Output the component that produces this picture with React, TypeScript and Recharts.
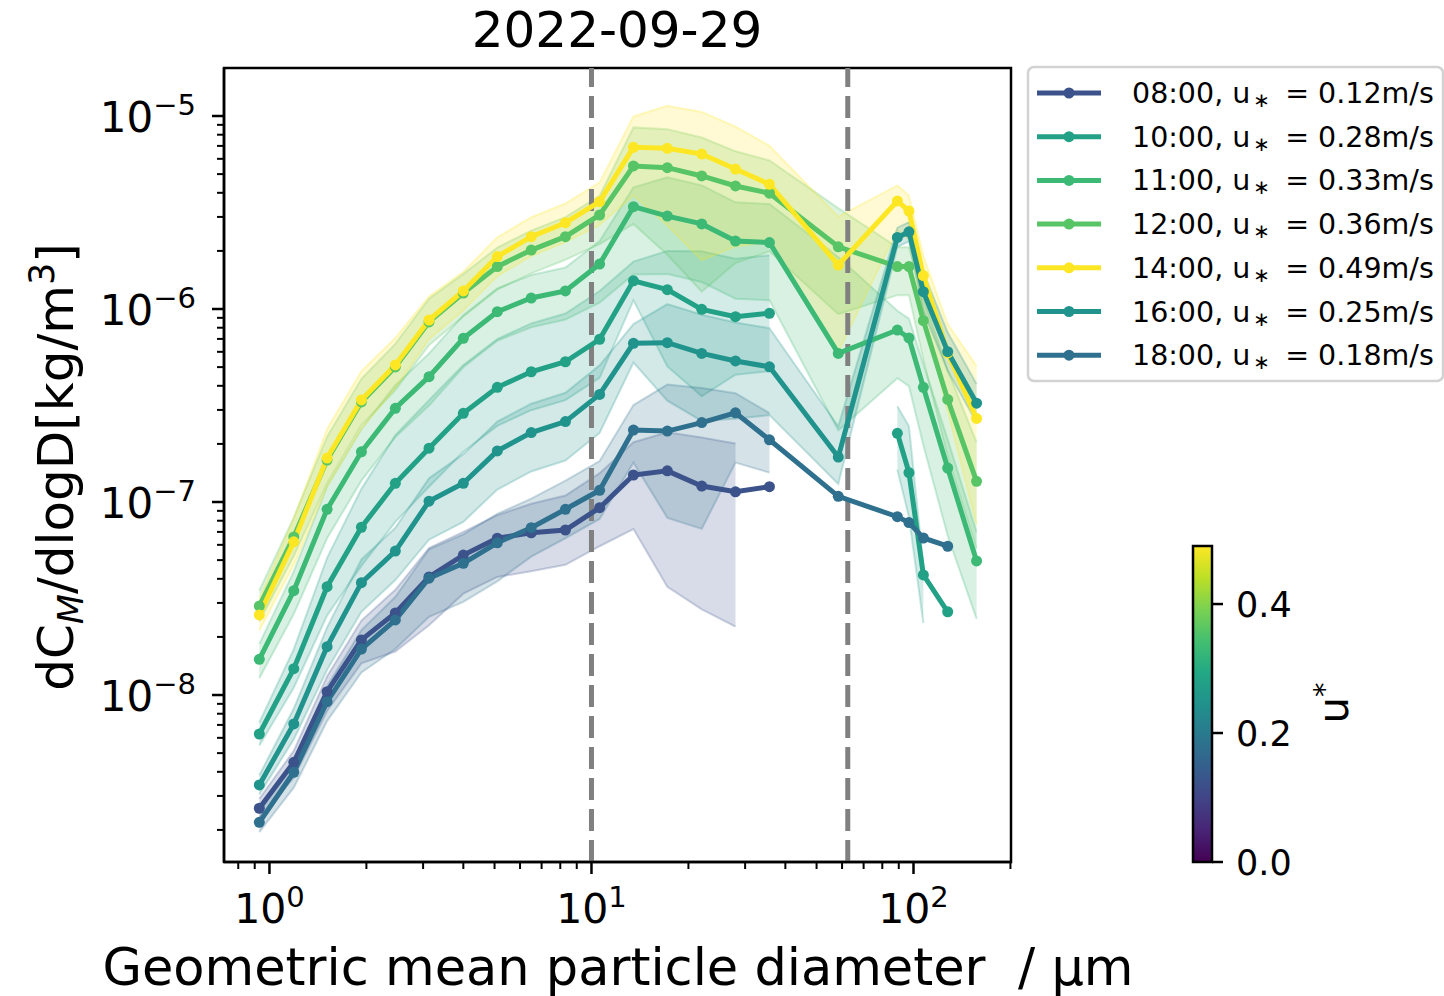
import React from "react";
import { Area, ComposedChart, Line, ReferenceArea, ReferenceLine, XAxis, YAxis } from "recharts";

const FONT = "DejaVu Sans, sans-serif";

// geometric mean diameters (um)
const DIAMETERS = [0.93, 1.19, 1.51, 1.93, 2.46, 3.13, 4.0, 5.1, 6.5, 8.3, 10.6, 13.5, 17.2, 22.0, 28.0, 35.7, 58.4, 89.1, 96.8, 107.3, 127.7, 157.0];

const TIMES = ["08:00", "10:00", "11:00", "12:00", "14:00", "16:00", "18:00"];
const USTAR = ["0.12", "0.28", "0.33", "0.36", "0.49", "0.25", "0.18"];
const COLORS = ["#3b528b", "#22a186", "#3bb975", "#57c565", "#fde725", "#20938c", "#2e708e"];

const N = null;

const S08 = [2.59e-9, 4.48e-9, 1.04e-8, 1.93e-8, 2.66e-8, 4.09e-8, 5.31e-8, 6.49e-8, 6.93e-8, 7.16e-8, 9.34e-8, 1.38e-7, 1.45e-7, 1.21e-7, 1.13e-7, 1.2e-7, N, N, N, N, N, N];
const S10 = [6.28e-9, 1.37e-8, 3.64e-8, 7.4e-8, 1.25e-7, 1.9e-7, 2.88e-7, 3.93e-7, 4.73e-7, 5.33e-7, 6.97e-7, 1.4e-6, 1.26e-6, 9.96e-7, 9.12e-7, 9.5e-7, N, 2.27e-7, 1.42e-7, 4.19e-8, 2.7e-8, N];
const S11 = [1.53e-8, 3.47e-8, 9.17e-8, 1.82e-7, 3.06e-7, 4.46e-7, 7.05e-7, 9.68e-7, 1.14e-6, 1.24e-6, 1.71e-6, 3.39e-6, 3.03e-6, 2.76e-6, 2.25e-6, 2.21e-6, 5.89e-7, 7.78e-7, 7.08e-7, 3.93e-7, 1.5e-7, 4.95e-8];
const S12 = [2.89e-8, 6.59e-8, 1.65e-7, 3.3e-7, 5.01e-7, 8.57e-7, 1.21e-6, 1.66e-6, 2.02e-6, 2.37e-6, 3.07e-6, 5.51e-6, 5.4e-6, 4.89e-6, 4.34e-6, 3.98e-6, 2.1e-6, 1.66e-6, 1.66e-6, 8.7e-7, 3.4e-7, 1.28e-7];
const S14 = [2.6e-8, 6.22e-8, 1.69e-7, 3.38e-7, 5.13e-7, 8.77e-7, 1.24e-6, 1.87e-6, 2.37e-6, 2.8e-6, 3.6e-6, 6.88e-6, 6.8e-6, 6.35e-6, 5.31e-6, 4.43e-6, 1.69e-6, 3.63e-6, 3.22e-6, 1.49e-6, 5.92e-7, 2.71e-7];
const S16 = [3.42e-9, 7.08e-9, 1.78e-8, 3.82e-8, 5.57e-8, 1.01e-7, 1.25e-7, 1.84e-7, 2.29e-7, 2.61e-7, 3.61e-7, 6.64e-7, 6.69e-7, 5.89e-7, 5.38e-7, 5.02e-7, 1.71e-7, 2.35e-6, 2.51e-6, 1.23e-6, 6.01e-7, 3.25e-7];
const S18 = [2.19e-9, 3.98e-9, 9.23e-9, 1.73e-8, 2.45e-8, 4.03e-8, 4.81e-8, 6.15e-8, 7.36e-8, 9.17e-8, 1.15e-7, 2.36e-7, 2.33e-7, 2.58e-7, 2.9e-7, 2.1e-7, 1.07e-7, 8.39e-8, 7.83e-8, 6.51e-8, 5.9e-8, N];

// spread bands (low / high)
const L08 = [2.31e-9, 3.73e-9, 8.26e-9, 1.46e-8, 1.68e-8, 2.3e-8, 3.35e-8, 4.09e-8, 4.38e-8, 4.73e-8, 5.9e-8, 7.24e-8, 3.64e-8, 2.78e-8, 2.26e-8, N, N, N, N, N, N, N];
const H08 = [2.9e-9, 5.14e-9, 1.25e-8, 2.43e-8, 3.51e-8, 5.77e-8, 7.0e-8, 8.55e-8, 9.79e-8, 1.08e-7, 1.41e-7, 2.04e-7, 2.3e-7, 2.16e-7, 2.01e-7, N, N, N, N, N, N, N];
const L10 = [5.47e-9, 1.09e-8, 2.58e-8, 4.67e-8, 7.89e-8, 1.2e-7, 1.82e-7, 2.48e-7, 2.99e-7, 3.37e-7, 4.4e-7, 1.11e-6, 5.04e-7, 3.53e-7, 4.57e-7, 4.76e-7, N, 1.47e-7, 8.36e-8, 2.36e-8, N, N];
const H10 = [7.21e-9, 1.73e-8, 5.14e-8, 1.17e-7, 2.22e-7, 3.37e-7, 5.12e-7, 6.99e-7, 8.42e-7, 9.48e-7, 1.24e-6, 1.76e-6, 2.0e-6, 1.99e-6, 1.82e-6, 1.9e-6, N, 3.13e-7, 2.47e-7, 4.7e-8, N, N];
const L11 = [1.22e-8, 2.63e-8, 6.49e-8, 1.29e-7, 2.17e-7, 3.16e-7, 4.99e-7, 6.85e-7, 8.04e-7, 8.81e-7, 1.08e-6, 1.51e-6, 1.52e-6, 1.38e-6, 1.13e-6, 1.11e-6, 2.35e-7, 4.38e-7, 3.98e-7, 1.97e-7, 6.68e-8, 2.48e-8];
const H11 = [1.84e-8, 4.37e-8, 1.21e-7, 2.4e-7, 4.03e-7, 5.88e-7, 9.29e-7, 1.28e-6, 1.5e-6, 1.64e-6, 2.25e-6, 4.27e-6, 4.81e-6, 4.37e-6, 3.57e-6, 3.5e-6, 1.86e-6, 9.8e-7, 8.91e-7, 5.18e-7, 2.11e-7, 6.99e-8];
const L12 = [2.4e-8, 5.24e-8, 1.25e-7, 2.5e-7, 3.8e-7, 6.5e-7, 9.14e-7, 1.26e-6, 1.53e-6, 1.8e-6, 2.17e-6, 2.76e-6, 1.91e-6, 1.23e-6, 1.73e-6, 1.99e-6, 9.4e-7, 1.18e-6, 1.18e-6, 5.48e-7, 1.71e-7, 5.74e-8];
const H12 = [3.48e-8, 8.3e-8, 2.18e-7, 4.35e-7, 6.6e-7, 1.13e-6, 1.52e-6, 2.08e-6, 2.55e-6, 2.99e-6, 3.86e-6, 8.73e-6, 8.55e-6, 7.74e-6, 6.56e-6, 5.88e-6, 3.33e-6, 2.09e-6, 2.09e-6, 1.15e-6, 4.81e-7, 2.04e-7];
const L14 = [2.16e-8, 4.72e-8, 1.2e-7, 2.39e-7, 3.89e-7, 6.97e-7, 9.84e-7, 1.48e-6, 1.88e-6, 2.22e-6, 2.73e-6, 3.87e-6, 2.71e-6, 1.79e-6, 2.11e-6, 2.22e-6, 6.0e-7, 2.57e-6, 2.28e-6, 9.42e-7, 2.96e-7, 7.66e-8];
const H14 = [3.13e-8, 8.2e-8, 2.39e-7, 4.77e-7, 7.08e-7, 1.16e-6, 1.56e-6, 2.35e-6, 2.99e-6, 3.52e-6, 4.53e-6, 9.95e-6, 1.13e-5, 1.05e-5, 8.81e-6, 7.01e-6, 3.01e-6, 4.37e-6, 3.87e-6, 1.88e-6, 8.36e-7, 5.06e-7];
const L16 = [3.05e-9, 5.89e-9, 1.35e-8, 2.7e-8, 3.94e-8, 6.38e-8, 7.89e-8, 1.16e-7, 1.44e-7, 1.64e-7, 2.28e-7, 5.28e-7, 3.35e-7, 2.63e-7, 2.7e-7, 2.82e-7, 1.24e-7, 2.1e-6, 2.24e-6, 9.77e-7, 4.78e-7, 2.58e-7];
const H16 = [3.84e-9, 8.51e-9, 2.24e-8, 5.04e-8, 7.35e-8, 1.33e-7, 1.77e-7, 2.61e-7, 3.23e-7, 3.68e-7, 5.11e-7, 8.36e-7, 1.06e-6, 9.34e-7, 8.52e-7, 7.96e-7, 2.47e-7, 2.64e-6, 2.82e-6, 1.55e-6, 7.57e-7, 4.09e-7];
const L18 = [1.95e-9, 3.31e-9, 7.33e-9, 1.31e-8, 1.73e-8, 2.54e-8, 3.04e-8, 3.88e-8, 5.21e-8, 6.49e-8, 8.17e-8, 1.6e-7, 8.28e-8, 7.26e-8, 1.6e-7, 1.42e-7, N, N, N, N, N, N];
const H18 = [2.46e-9, 4.57e-9, 1.11e-8, 2.17e-8, 3.23e-8, 5.69e-8, 6.8e-8, 8.69e-8, 1.04e-7, 1.29e-7, 1.63e-7, 3.18e-7, 4.06e-7, 3.9e-7, 3.66e-7, 2.89e-7, N, N, N, N, N, N];

const MEANS = [S08, S10, S11, S12, S14, S16, S18];
const LOWS = [L08, L10, L11, L12, L14, L16, L18];
const HIGHS = [H08, H10, H11, H12, H14, H16, H18];

const X_TICKS = [0.8, 0.9, 1, 2, 3, 4, 5, 6, 7, 8, 9, 10, 20, 30, 40, 50, 60, 70, 80, 90, 100, 200];
const Y_TICKS = [
  2e-9, 3e-9, 4e-9, 5e-9, 6e-9, 7e-9, 8e-9, 9e-9, 1e-8,
  2e-8, 3e-8, 4e-8, 5e-8, 6e-8, 7e-8, 8e-8, 9e-8, 1e-7,
  2e-7, 3e-7, 4e-7, 5e-7, 6e-7, 7e-7, 8e-7, 9e-7, 1e-6,
  2e-6, 3e-6, 4e-6, 5e-6, 6e-6, 7e-6, 8e-6, 9e-6, 1e-5,
];
const X_DOMAIN: [number, number] = [0.7225, 200.8];
const Y_DOMAIN: [number, number] = [1.364e-9, 1.773e-5];
const CUTOFFS = [10, 62.5];

const CBAR_TICKS = ["0.0", "0.2", "0.4"];
const CBAR_MAX = 0.49;
const VIRIDIS = ["#440154", "#482475", "#414487", "#355f8d", "#2a788e", "#21918c", "#22a884", "#44bf70", "#7ad151", "#bddf26", "#fde725"];

const rows = DIAMETERS.map((d, i) => {
  const row: Record<string, unknown> = { d };
  MEANS.forEach((m, k) => {
    row[`m${k}`] = m[i];
    const lo = LOWS[k][i];
    const hi = HIGHS[k][i];
    row[`b${k}`] = lo == null || hi == null ? null : [lo, hi];
  });
  return row;
});

const exponentOf = (v: number) => Math.round(Math.log10(v));
const isDecade = (v: number) => Math.abs(Math.log10(v) - exponentOf(v)) < 1e-6;
const fmtExp = (e: number) => (e < 0 ? `\u2212${-e}` : `${e}`);

function XTick(props: any) {
  const { x, y, payload } = props;
  const major = isDecade(payload.value);
  return (
    <g>
      <line x1={x} x2={x} y1={y} y2={y + (major ? 12 : 7)} stroke="#000" strokeWidth={major ? 2.5 : 2} />
      {major && (
        <text x={x} y={y + 61} textAnchor="middle" fontFamily={FONT} fontSize={41} fill="#000">
          10
          <tspan dy={-16} fontSize={29}>
            {fmtExp(exponentOf(payload.value))}
          </tspan>
        </text>
      )}
    </g>
  );
}

function YTick(props: any) {
  const { x, y, payload } = props;
  const major = isDecade(payload.value);
  return (
    <g>
      <line x1={x} x2={x - (major ? 12 : 7)} y1={y} y2={y} stroke="#000" strokeWidth={major ? 2.5 : 2} />
      {major && (
        <text x={x - 28} y={y + 16} textAnchor="end" fontFamily={FONT} fontSize={42} fill="#000">
          10
          <tspan dy={-17} fontSize={29}>
            {fmtExp(exponentOf(payload.value))}
          </tspan>
        </text>
      )}
    </g>
  );
}

function Legend() {
  return (
    <svg width={420} height={320} style={{ position: "absolute", left: 1026, top: 65 }}>
      <rect x={2} y={2} width={415} height={314} rx={6} fill="#fff" stroke="#d2d2d2" strokeWidth={2.5} />
      {TIMES.map((t, k) => {
        const cy = 28 + k * 43.7;
        return (
          <g key={t}>
            <line x1={11} x2={75} y1={cy} y2={cy} stroke={COLORS[k]} strokeWidth={5} />
            <circle cx={43} cy={cy} r={5.5} fill={COLORS[k]} />
            <text x={106} y={cy + 10} fontFamily={FONT} fontSize={28.5} fill="#000" style={{ whiteSpace: "pre" }}>
              {`${t}, u`}
              <tspan fontSize={20} dx={3} dy={4}>{"\u2217"}</tspan>
              <tspan dx={6} dy={-4}>{` = ${USTAR[k]}m/s`}</tspan>
            </text>
          </g>
        );
      })}
    </svg>
  );
}

function Colorbar() {
  const top = 546;
  const bottom = 862;
  const h = bottom - top;
  return (
    <svg width={300} height={400} style={{ position: "absolute", left: 1150, top: 500 }}>
      <defs>
        <linearGradient id="viridis" x1="0" y1="1" x2="0" y2="0">
          {VIRIDIS.map((c, i) => (
            <stop key={c} offset={`${i * 10}%`} stopColor={c} />
          ))}
        </linearGradient>
      </defs>
      <rect x={43} y={top - 500} width={19} height={h} fill="url(#viridis)" stroke="#000" strokeWidth={2.5} />
      {CBAR_TICKS.map((t) => {
        const ty = bottom - 500 - (Number(t) / CBAR_MAX) * h;
        return (
          <g key={t}>
            <line x1={62} x2={73} y1={ty} y2={ty} stroke="#000" strokeWidth={2.5} />
            <text x={86} y={ty + 13} fontFamily={FONT} fontSize={35} fill="#000">
              {t}
            </text>
          </g>
        );
      })}
      <text transform="translate(198 203) rotate(-90)" textAnchor="middle" fontFamily={FONT} fontSize={42} fill="#000">
        u<tspan dy={-14} fontSize={29}>*</tspan>
      </text>
    </svg>
  );
}

export default function App() {
  return (
    <div style={{ position: "absolute", left: 0, top: 0, width: 1444, height: 996, background: "#fff", overflow: "hidden" }}>
      <ComposedChart width={1444} height={996} data={rows} margin={{ top: 68, right: 433, bottom: 0, left: 0 }}>
        <XAxis
          dataKey="d"
          type="number"
          scale="log"
          domain={X_DOMAIN}
          allowDataOverflow
          ticks={X_TICKS}
          interval={0}
          tick={<XTick />}
          tickLine={false}
          tickSize={0}
          tickMargin={0}
          height={134}
          axisLine={{ stroke: "#000", strokeWidth: 2.5 }}
        />
        <YAxis
          type="number"
          scale="log"
          domain={Y_DOMAIN}
          allowDataOverflow
          ticks={Y_TICKS}
          interval={0}
          tick={<YTick />}
          tickLine={false}
          tickSize={0}
          tickMargin={0}
          width={224}
          axisLine={{ stroke: "#000", strokeWidth: 2.5 }}
        />
        {COLORS.map((c, k) => (
          <Area
            key={`band-${k}`}
            type="linear"
            dataKey={`b${k}`}
            fill={c}
            fillOpacity={0.2}
            stroke={c}
            strokeOpacity={0.25}
            strokeWidth={2}
            isAnimationActive={false}
            activeDot={false}
            dot={false}
          />
        ))}
        {CUTOFFS.map((x) => (
          <ReferenceLine key={x} x={x} stroke="#808080" strokeWidth={5} strokeDasharray="22 9" />
        ))}
        {COLORS.map((c, k) => (
          <Line
            key={`line-${k}`}
            type="linear"
            dataKey={`m${k}`}
            stroke={c}
            strokeWidth={5}
            dot={{ r: 5.5, fill: c, stroke: c, strokeWidth: 0 }}
            activeDot={false}
            isAnimationActive={false}
          />
        ))}
        <ReferenceArea
          x1={X_DOMAIN[0]}
          x2={X_DOMAIN[1]}
          y1={Y_DOMAIN[0]}
          y2={Y_DOMAIN[1]}
          fill="none"
          stroke="#000"
          strokeWidth={2.5}
          ifOverflow="visible"
        />
      </ComposedChart>

      <svg width={1444} height={996} style={{ position: "absolute", left: 0, top: 0, pointerEvents: "none" }}>
        <text x={617} y={47} textAnchor="middle" fontFamily={FONT} fontSize={50} fill="#000">
          2022-09-29
        </text>
        <text x={618} y={985} textAnchor="middle" fontFamily={FONT} fontSize={51} fill="#000" style={{ whiteSpace: "pre" }}>
          {"Geometric mean particle diameter  / \u03bcm"}
        </text>
        <text transform="translate(73 467) rotate(-90)" textAnchor="middle" fontFamily={FONT} fontSize={50} fill="#000">
          dC
          <tspan dy={10} fontSize={35} fontStyle="italic">M</tspan>
          <tspan dy={-10}>/dlogD[kg/m</tspan>
          <tspan dy={-19} fontSize={35}>3</tspan>
          <tspan dy={19}>]</tspan>
        </text>
      </svg>
      <Legend />
      <Colorbar />
    </div>
  );
}
